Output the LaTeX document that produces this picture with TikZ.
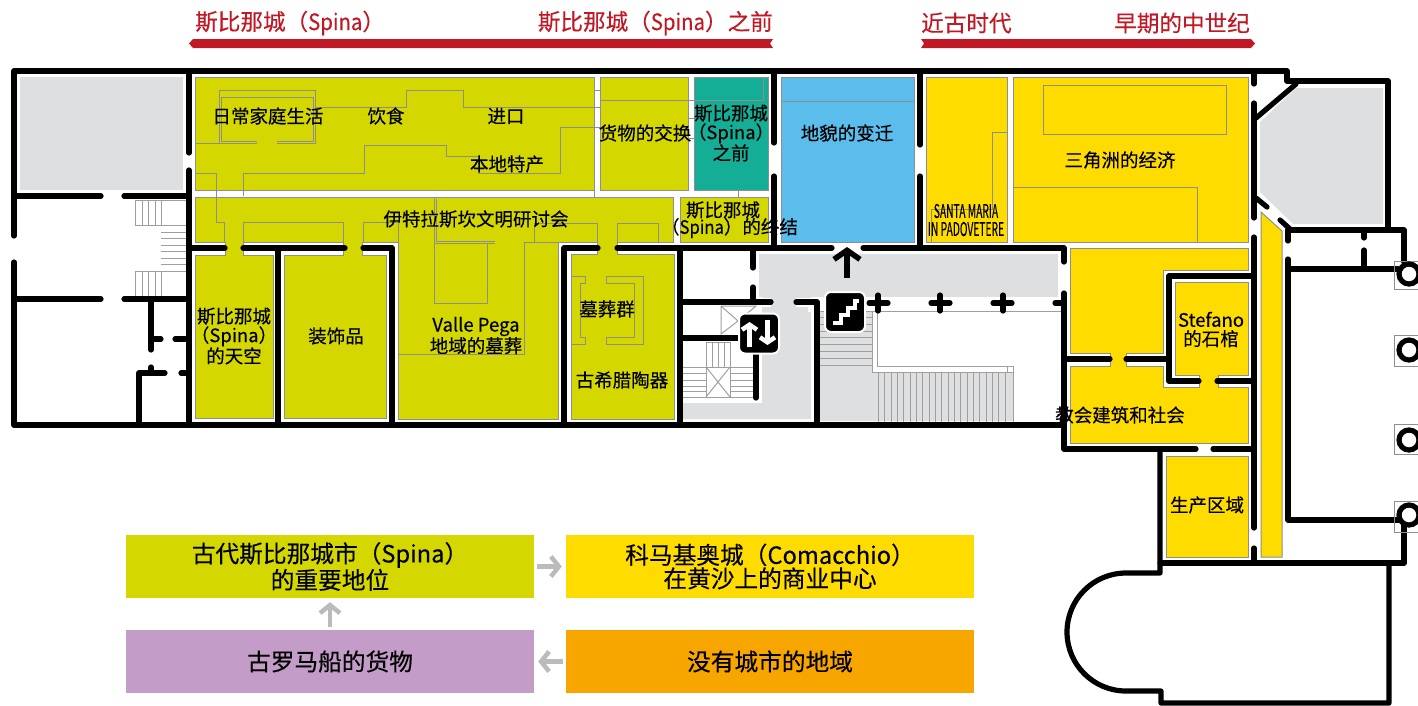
\documentclass[tikz,border=0pt]{standalone}
\usepackage{fontspec}
\usepackage{graphicx}
\setmainfont[FakeBold=0.3]{Noto Sans CJK SC}
\usetikzlibrary{arrows.meta}
\newcommand{\narrowlat}[1]{\scalebox{0.9}[1]{#1}}
\definecolor{olive}{HTML}{D4D700}
\definecolor{yel}{HTML}{FFDC00}
\definecolor{teal2}{HTML}{14AE96}
\definecolor{sky}{HTML}{5BBDEB}
\definecolor{lgray}{HTML}{DEDFE1}
\definecolor{lineg}{HTML}{8E8E8E}
\definecolor{redbar}{HTML}{C01824}
\definecolor{purp}{HTML}{C49CC8}
\definecolor{orng}{HTML}{F7A600}
\definecolor{arrowg}{HTML}{BBBBBB}
\tikzset{
  x=1pt,y=-1pt,
  wall/.style={draw=black,line width=5.2pt,line cap=round,line join=round},
  halo/.style={draw=white,line width=9pt},
  thin1/.style={draw=lineg,line width=1pt},
  stair/.style={draw=lineg!85,line width=1pt},
  roomO/.style={fill=olive,draw=lineg,line width=1pt},
  roomY/.style={fill=yel,draw=lineg,line width=1pt},
  lab/.style={inner sep=0pt,align=center,font=\fontsize{18.5}{19}\selectfont},
  toplab/.style={inner sep=0pt,text=redbar,font=\fontsize{22.6}{24}\selectfont},
  boxn/.style={minimum width=408pt,minimum height=63pt,inner sep=0pt,align=center,font=\fontsize{23.7}{23.5}\selectfont},
  garrow/.style={draw=arrowg,line width=4.5pt,-{Straight Barb[length=8pt,width=20pt,line width=4.5pt]}},
  icon/.style={fill=black,draw=white,line width=2pt,rounded corners=6pt,minimum size=40pt,inner sep=0pt},
}
\begin{document}
\begin{tikzpicture}
\useasboundingbox (0,0) rectangle (1418,705);
% grey zones
\fill[lgray] (20,77) rectangle (183,190);
\fill[lgray] (1296,88) -- (1383,88) -- (1383,224) -- (1293,224) -- (1260,192) -- (1260,122) -- cycle;
\fill[lgray] (759,254) rectangle (1058,297);
\fill[lgray] (762,297) -- (811,297) -- (811,419) -- (683,419) -- (683,403) -- (762,403) -- cycle;
\fill[lgray] (819,311) -- (872,311) -- (872,372) -- (1013,372) -- (1013,421) -- (819,421) -- cycle;
\draw[halo] (753,302) -- (771,302);
\draw[halo] (796,302) -- (817,302);
\draw[halo,line width=8pt] (812,305) -- (812,312);
% rooms olive
\draw[roomO] (195,77) rectangle (594,190);
\draw[roomO] (600,77) rectangle (688,190);
\draw[roomO] (680,197) rectangle (768,242);
\draw[fill=teal2,draw=lineg,line width=1pt] (694,77) rectangle (768,190);
\draw[roomO] (195,197) -- (673,197) -- (673,242) -- (617,242) -- (617,254) -- (674,254) -- (674,419) -- (571,419) -- (571,254) -- (597,254) -- (597,242) -- (558,242) -- (558,419) -- (398,419) -- (398,242) -- (362,242) -- (362,255) -- (386,255) -- (386,418) -- (284,418) -- (284,255) -- (343,255) -- (343,242) -- (243,242) -- (243,255) -- (273,255) -- (273,418) -- (195,418) -- (195,255) -- (225,255) -- (225,242) -- (195,242) -- cycle;
% blue
\draw[fill=sky,draw=lineg,line width=1pt] (781,77) rectangle (914,242);
\draw[thin1] (781,101) -- (914,101);
% yellow
\draw[roomY] (926,77) rectangle (1007,242);
\draw[roomY] (1013,77) rectangle (1248,242);
\draw[roomY] (1070,248) -- (1248,248) -- (1248,270) -- (1163,270) -- (1163,353) -- (1126,353) -- (1126,366) -- (1163,366) -- (1163,387) -- (1199,387) -- (1199,375) -- (1175,375) -- (1175,282) -- (1248,282) -- (1248,375) -- (1218,375) -- (1218,387) -- (1248,387) -- (1248,443) -- (1070,443) -- (1070,366) -- (1110,366) -- (1110,353) -- (1070,353) -- cycle;
\draw[roomY] (1166,456) rectangle (1248,557);
\draw[roomY] (1261,212) -- (1282,231) -- (1282,557) -- (1261,557) -- cycle;
% thin lines in yellow rooms
\draw[thin1] (1007,132) -- (992,132) -- (992,209) -- (931,209) -- (931,242);
\draw[thin1] (1043,85) rectangle (1226,134);
\draw[thin1] (1013,187) -- (1197,187) -- (1197,242);
% thin lines in olive rooms
\draw[thin1] (195,143) -- (219,143) -- (219,90) -- (315,90) -- (315,143) -- (277,143);
\draw[thin1] (257,143) -- (219,143);
\draw[thin1] (257,141) -- (221,141) -- (221,97) -- (313,97) -- (313,141) -- (277,141);
\draw[thin1] (315,107) -- (406,107) -- (406,90) -- (463,90) -- (463,107) -- (594,107);
\draw[thin1] (243,196) -- (243,173) -- (364,173) -- (364,145) -- (446,145) -- (446,156) -- (478,156) -- (478,173) -- (560,173) -- (560,127) -- (600,127);
\draw[thin1] (594,107) -- (600,107) (594,77) -- (594,197) (594,90) -- (600,90);
\draw[thin1] (600,100) -- (763,100) -- (763,77);
\draw[thin1] (688,118) -- (694,118) (688,138) -- (694,138);
\draw[thin1] (738,190) -- (738,197);
\draw[thin1] (195,173) -- (216,173) -- (216,222) -- (224,222) -- (224,242);
\draw[thin1] (243,242) -- (243,222) -- (343,222) -- (343,242);
\draw[thin1] (363,242) -- (363,222) -- (398,222) -- (398,242);
\draw[thin1] (434,197) -- (434,243) -- (495,243);
\draw[thin1] (436,199) -- (436,241) -- (495,241);
\draw[thin1] (434,243) rectangle (487,303);
\draw[thin1] (398,354) -- (524,354) -- (524,242);
\draw[thin1] (534,242) -- (534,223) -- (597,223) -- (597,242);
\draw[thin1] (617,242) -- (617,223) -- (658,223) -- (658,242);
\draw[thin1] (524,242) -- (597,242);
\draw[thin1] (571,276) -- (585,276) -- (585,283) -- (580,283) -- (580,337) -- (585,337) -- (585,344) -- (571,344);
\draw[thin1] (606,276) -- (643,276) -- (643,344) -- (606,344) -- (606,337) -- (634,337) -- (634,283) -- (606,283) -- cycle;
% left stairs
\foreach \x in {135,142,148,155,161} {\draw[stair] (\x,200) -- (\x,225); \draw[stair] (\x,271) -- (\x,297);}
\draw[stair] (135,200) -- (187,200) (135,225) -- (187,225) (135,271) -- (187,271) (135,200) -- (135,225);
\foreach \y in {232,238.5,245,251.5,258,264.5} {\draw[stair] (161,\y) -- (187,\y);}
% stairs by lift
\draw[stair] (721,306) -- (721,334) -- (738,321) -- (721,306);
\draw[stair] (738,321) -- (756,306) -- (721,306);
\foreach \x in {706,712,718,724,730} {\draw[stair] (\x,342) -- (\x,367);}
\draw[stair] (706,342) -- (730,342);
\draw[stair] (706,367) rectangle (730,397);
\draw[stair] (706,367) -- (730,397) (730,367) -- (706,397);
\foreach \y in {367,373,380,386,391,397} {\draw[stair] (683,\y) -- (706,\y) (730,\y) -- (753,\y);}
% big stairs
\foreach \y in {311,317.5,324,331,337,344,351,358,365} {\draw[stair] (819,\y) -- (872,\y);}
\foreach \x in {878,884.5,891,897,903.5,910,916,922.5,929,935,941.5,948,954,960.5,967,973,979.5,986,992,998.5,1005,1013} {\draw[stair] (\x,372) -- (\x,422);}
\draw[stair] (872,311) -- (1062,311) (872,311) -- (872,372) -- (1013,372) (877,311) -- (877,366) -- (1013,366) -- (1013,372) (1007,366) -- (1007,372);
% walls
\draw[wall] (14,236) -- (14,71) -- (1287,71) -- (1287,81) -- (1388,81) -- (1388,230);
\draw[wall] (14,262) -- (14,425) -- (1064,425);
\draw[wall] (189,71) -- (189,153) (189,170) -- (189,425);
\draw[wall] (14,196) -- (101,196) (124,196) -- (189,196);
\draw[wall] (14,299) -- (101,299) (124,299) -- (189,299);
\draw[wall] (189,248) -- (225,248) (243,248) -- (345,248) (363,248) -- (392,248) -- (392,425);
\draw[wall] (278,248) -- (278,425);
\draw[wall] (151,299) -- (151,350) (151,339) -- (161,339) (175,339) -- (189,339);
\draw[wall] (151,367) -- (151,373) (181,373) -- (189,373);
\draw[wall] (165,373) -- (139,373) -- (139,425);
\draw[wall] (564,425) -- (564,248) -- (598,248) (617,248) -- (832,248) (863,248) -- (1064,248) -- (1064,262);
\draw[wall] (680,248) -- (680,425);
\draw[wall] (753,248) -- (753,268) (753,287) -- (753,302);
\draw[wall] (680,302) -- (771,302) (796,302) -- (817,302) -- (817,425);
\draw[wall] (680,338) -- (745,338);
\draw[wall] (756,350) -- (756,398);
\draw[wall] (774,71) -- (774,143) (774,176) -- (774,248);
\draw[wall] (920,71) -- (920,145) (920,176) -- (920,248);
\draw[wall] (1254,71) -- (1254,84) (1254,103) -- (1254,218) (1254,237) -- (1254,528) (1254,548) -- (1254,563);
\draw[wall] (1296,84) -- (1256,118);
\draw[wall] (1256,198) -- (1267,207) (1280,220) -- (1290,229);
\draw[wall] (1288,230) -- (1404,230) -- (1404,262);
\draw[wall] (1288,230) -- (1288,241) (1288,259) -- (1288,520) -- (1400,520);
\draw[wall] (1288,269) -- (1398,269);
\draw[wall] (1364,232) -- (1364,238) (1364,250) -- (1364,269);
\draw[wall] (1064,293) -- (1064,449) -- (1196,449) (1213,449) -- (1254,449);
\draw[wall] (1064,359) -- (1110,359) (1126,359) -- (1169,359);
\draw[wall] (1254,276) -- (1169,276) -- (1169,381) -- (1199,381) (1217,381) -- (1254,381);
\draw[wall] (869,303) -- (888,303) (878,295) -- (878,311);
\draw[wall] (931,303) -- (950,303) (940,295) -- (940,311);
\draw[wall] (993,303) -- (1012,303) (1003,295) -- (1003,311);
\draw[wall] (1055,303) -- (1064,303);
\draw[wall] (1160,449) -- (1160,573) -- (1126,573) arc[start angle=270,end angle=90,radius=59] -- (1161,691) -- (1161,703) -- (1389,703) -- (1389,563);
\draw[wall] (1160,563) -- (1404,563) -- (1404,525);
% columns
\draw[thin1,draw=lineg] (1394,261) rectangle (1425,289);
\draw[thin1] (1394,335) rectangle (1425,366);
\draw[thin1] (1394,424) rectangle (1425,454);
\draw[thin1] (1394,501) rectangle (1425,532);
\foreach \y in {274,350,440,515} {\draw[fill=white,draw=black,line width=5.2pt] (1409,\y) circle[radius=10];}
% up arrow
\coordinate (upS) at (847,278);
\coordinate (upE) at (847,247);
\draw[black,line width=5.5pt,-{Straight Barb[length=9pt,width=26pt,line width=5.5pt]}] (upS) -- (upE);
% icons
\node[icon] (lift) at (759,333.5) {};
\draw[white,line width=4.5pt,-{Straight Barb[length=5pt,width=15pt,line width=4.5pt]}] (749.5,347) -- (749.5,322);
\draw[white,line width=4.5pt,-{Straight Barb[length=5pt,width=15pt,line width=4.5pt]}] (767.5,320) -- (767.5,345);
\node[icon] (stairs) at (845,312) {};
\draw[white,line width=3.2pt] (833,323) -- (841,323) -- (841,315) -- (848,315) -- (848,308) -- (855,308) -- (855,301) -- (859,301);
% top bars
\fill[redbar] (189,43.5) -- (193,39) -- (773,39) -- (770,43.5) -- (773,48) -- (193,48) -- cycle;
\fill[redbar] (921,39) -- (1251,39) -- (1255,43.5) -- (1251,48) -- (921,48) -- (924,43.5) -- cycle;
\node[toplab,anchor=west] (t1) at (195,23) {斯比那城（\narrowlat{Spina}）};
\node[toplab,anchor=east] (t2) at (773,23) {斯比那城（\narrowlat{Spina}）之前};
\node[toplab,anchor=west] (t3) at (921,23) {近古时代};
\node[toplab,anchor=east] (t4) at (1250,23) {早期的中世纪};
% labels
\node[lab] (a1) at (268,116) {日常家庭生活};
\node[lab] (a2) at (386,116) {饮食};
\node[lab] (a3) at (506,116) {进口};
\node[lab] (a4) at (507,164) {本地特产};
\node[lab] (a5) at (645,133) {货物的交换};
\node[lab] (a6) at (731,133) {斯比那城\\（Spina）\\之前};
\node[lab] (a7) at (847,133) {地貌的变迁};
\node[lab,font=\fontsize{19}{18}\selectfont] (a8) at (966,220) {\scalebox{0.54}[1]{SANTA MARIA}\\\scalebox{0.54}[1]{IN PADOVETERE}};
\node[lab] (a9) at (1120,160) {三角洲的经济};
\node[lab] (a10) at (476,219) {伊特拉斯坎文明研讨会};
\node[lab] (a11) at (723,210) {斯比那城};
\node[lab] (a12) at (729.5,228) {（\narrowlat{Spina}）的终结};
\node[lab] (a13) at (234,336) {斯比那城\\（Spina）\\的天空};
\node[lab] (a14) at (336,336) {装饰品};
\node[lab] (a15) at (476,335.5) {Valle Pega\\地域的墓葬};
\node[lab] (a16) at (607,309) {墓葬群};
\node[lab] (a17) at (622,380) {古希腊陶器};
\node[lab] (a18) at (1211,329.5) {Stefano\\的石棺};
\node[lab] (a19) at (1120,415) {教会建筑和社会};
\node[lab] (a20) at (1207,505) {生产区域};
% legend
\node[boxn,fill=olive] (b1) at (330,566.5) {古代斯比那城市（Spina）\\的重要地位};
\node[boxn,fill=yel] (b2) at (770,566.5) {科马基奥城（Comacchio）\\在黄沙上的商业中心};
\node[boxn,fill=purp] (b3) at (330,661.5) {古罗马船的货物};
\node[boxn,fill=orng] (b4) at (770,661.5) {没有城市的地域};
\draw[garrow,shorten <=3pt,shorten >=4pt] (b1) -- (b2);
\draw[garrow,shorten <=3pt,shorten >=4pt] (b4) -- (b3);
\draw[garrow,shorten <=3pt,shorten >=4pt] (b3) -- (b1);
\end{tikzpicture}
\end{document}
